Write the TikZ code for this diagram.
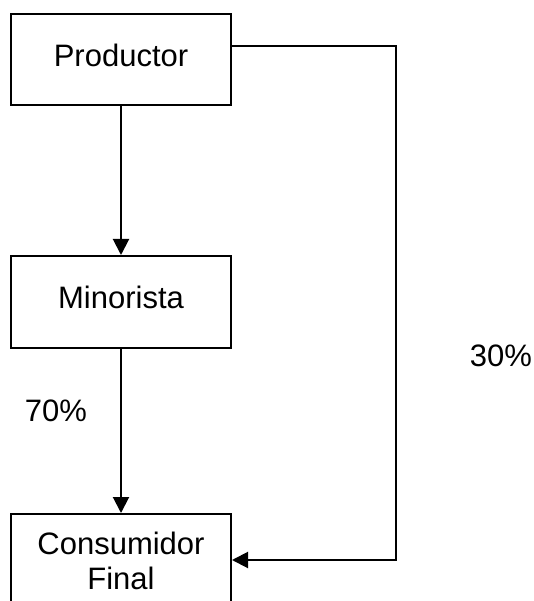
\documentclass[tikz,border=0pt]{standalone}
\usepackage{fontspec}
\setmainfont{Liberation Sans}
\usetikzlibrary{arrows.meta}
\begin{document}
\begin{tikzpicture}[x=1pt,y=-1pt,
  box/.style={draw,line width=2pt,minimum width=220pt,inner sep=0pt,align=center,font=\fontsize{31}{35}\selectfont},
  conn/.style={line width=2pt,-{Triangle[length=16pt,width=16pt]}},
  lbl/.style={font=\fontsize{31}{32}\selectfont}]
\useasboundingbox (0,0) rectangle (534,601);
\node[box,minimum height=91pt,text depth=9pt] (prod) at (121,59.5) {Productor};
\node[box,minimum height=92pt,text depth=10pt] (mino) at (121,302) {Minorista};
\node[box,minimum height=100pt,text depth=6pt] (cons) at (121,564) {Consumidor\\Final};
\coordinate (c1) at (396,46);
\coordinate (c2) at (396,560);
\draw[conn] (prod.south) -- (mino.north);
\draw[conn] (mino.south) -- (cons.north);
\draw[conn] (prod.east |- c1) -- (c1) -- (c2) -- (cons.east |- c2);
\node[lbl] (p30) at (501,356) {30\%};
\node[lbl] (p70) at (56,411) {70\%};
\end{tikzpicture}
\end{document}
